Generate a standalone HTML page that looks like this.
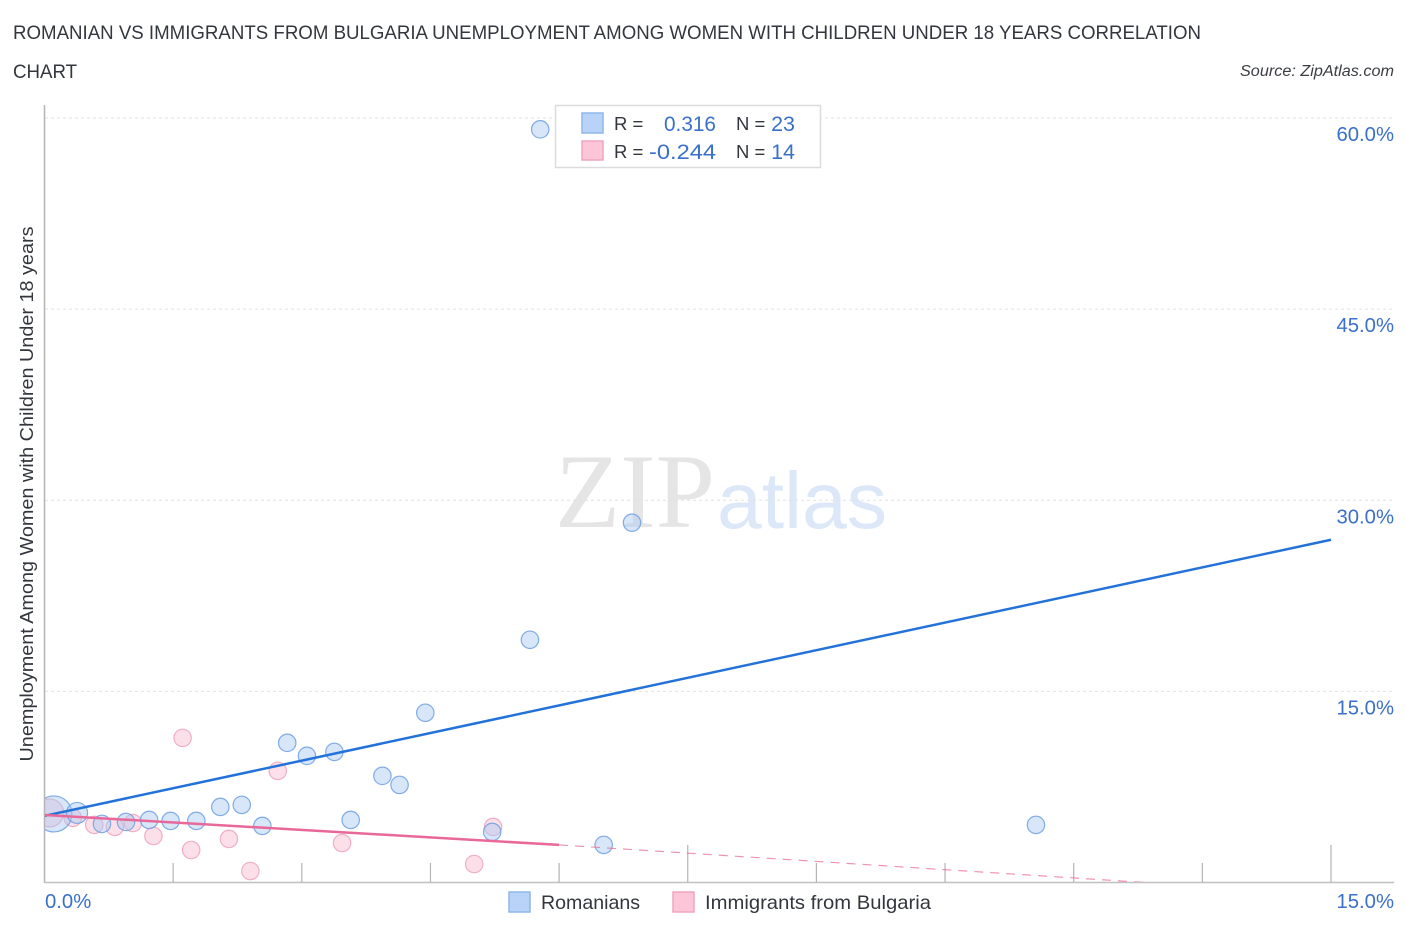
<!DOCTYPE html>
<html lang="en">
<head>
<meta charset="utf-8">
<title>Romanian vs Immigrants from Bulgaria Correlation Chart</title>
<style>
html,body{margin:0;padding:0;background:#fff;width:1406px;height:930px;overflow:hidden}
svg{display:block;font-family:"Liberation Sans",sans-serif}
</style>
</head>
<body>
<svg id="chart" width="1406" height="930" viewBox="0 0 1406 930">
  <defs><clipPath id="plot-clip"><rect x="45" y="100" width="1300" height="782"></rect></clipPath></defs>
  <rect width="1406" height="930" fill="#fff"></rect>

  <g>
    <text x="555" y="527" font-family="'Liberation Serif',serif" font-size="106" fill="#e5e5e5" textLength="160" lengthAdjust="spacingAndGlyphs">ZIP</text>
    <text x="717" y="528" font-size="80" fill="#dce8f8" textLength="170" lengthAdjust="spacingAndGlyphs">atlas</text>
  </g>

  <g id="grid"></g>
  <g id="axes"></g>
  <g id="y-labels"></g>
  <g id="x-labels"></g>
  <g id="points" clip-path="url(#plot-clip)"></g>
  <g id="trends" clip-path="url(#plot-clip)"></g>

  <text x="13" y="39" font-size="19.5" fill="#33373d" textLength="1188" lengthAdjust="spacingAndGlyphs">ROMANIAN VS IMMIGRANTS FROM BULGARIA UNEMPLOYMENT AMONG WOMEN WITH CHILDREN UNDER 18 YEARS CORRELATION</text>
  <text x="13" y="78" font-size="19.5" fill="#33373d" textLength="64" lengthAdjust="spacingAndGlyphs">CHART</text>
  <text x="1394" y="76" font-size="15.5" font-style="italic" fill="#3a3d42" text-anchor="end" textLength="154" lengthAdjust="spacingAndGlyphs">Source: ZipAtlas.com</text>

  <text transform="translate(33,494) rotate(-90)" font-size="18" fill="#33373d" text-anchor="middle" textLength="535" lengthAdjust="spacingAndGlyphs">Unemployment Among Women with Children Under 18 years</text>

  <g>
    <rect x="555.5" y="105.5" width="265" height="62" fill="#fff" stroke="#dcdcdc" stroke-width="1.5"></rect>
    <rect x="582" y="113" width="21" height="20" fill="#b8d3f7" stroke="#8fb7ea" stroke-width="1.5"></rect>
    <rect x="582" y="141" width="21" height="19" fill="#fcc5d8" stroke="#f0a5bf" stroke-width="1.5"></rect>
    <text x="614" y="130" font-size="18.5" fill="#33373d">R =</text>
    <text x="614" y="158" font-size="18.5" fill="#33373d">R =</text>
    <text x="664" y="131" font-size="21.5" fill="#3a70c9" textLength="52" lengthAdjust="spacingAndGlyphs">0.316</text>
    <text x="649" y="159" font-size="21.5" fill="#3a70c9" textLength="67" lengthAdjust="spacingAndGlyphs">-0.244</text>
    <text x="736" y="130" font-size="18.5" fill="#33373d">N =</text>
    <text x="736" y="158" font-size="18.5" fill="#33373d">N =</text>
    <text x="795" y="131" font-size="21.5" fill="#3a70c9" text-anchor="end">23</text>
    <text x="795" y="159" font-size="21.5" fill="#3a70c9" text-anchor="end">14</text>
  </g>

  <g>
    <rect x="509" y="892" width="21" height="20" fill="#b8d3f7" stroke="#8fb7ea" stroke-width="1.5"></rect>
    <text x="541" y="909" font-size="19.5" fill="#33373d" textLength="99" lengthAdjust="spacingAndGlyphs">Romanians</text>
    <rect x="673" y="892" width="21" height="20" fill="#fcc5d8" stroke="#f0a5bf" stroke-width="1.5"></rect>
    <text x="705" y="909" font-size="19.5" fill="#33373d" textLength="226" lengthAdjust="spacingAndGlyphs">Immigrants from Bulgaria</text>
  </g>
</svg>

<script>
const yTicks = [15, 30, 45, 60];
const yTickLabels = ["15.0%", "30.0%", "45.0%", "60.0%"];
const xTicks = [1.5, 3, 4.5, 6, 7.5, 9, 10.5, 12, 13.5, 15];
const xMajorTicks = [7.5, 15];
const xEndLabels = ["0.0%", "15.0%"];

const romaniansX = [0.11, 0.38, 0.67, 0.95, 1.22, 1.47, 1.77, 2.05, 2.30, 2.54, 2.83, 3.06, 3.38, 3.57, 3.94, 4.14, 4.44, 5.22, 5.66, 5.78, 6.52, 6.85, 11.56];
const romaniansY = [5.38, 5.46, 4.60, 4.75, 4.91, 4.83, 4.83, 5.93, 6.09, 4.44, 10.96, 9.94, 10.25, 4.91, 8.37, 7.66, 13.32, 3.97, 19.05, 59.11, 2.95, 28.24, 4.52];
const romaniansWeight = [5, 2, 1, 1, 1, 1, 1, 1, 1, 1, 1, 1, 1, 1, 1, 1, 1, 1, 1, 1, 1, 1, 1];

const bulgariaX = [0.06, 0.33, 0.58, 0.82, 1.03, 1.27, 1.61, 1.71, 2.15, 2.40, 2.72, 3.47, 5.01, 5.23];
const bulgariaY = [5.46, 5.07, 4.52, 4.36, 4.67, 3.65, 11.35, 2.55, 3.42, 0.90, 8.76, 3.10, 1.45, 4.36];
const bulgariaWeight = [3, 1, 1, 1, 1, 1, 1, 1, 1, 1, 1, 1, 1, 1];

const romaniansTrendX = [0, 15];
const romaniansTrendY = [5.23, 26.9];
const bulgariaTrendX = [0, 6];
const bulgariaTrendY = [5.3, 2.95];
const bulgariaDashX = [6, 12.83];
const bulgariaDashY = [2.95, 0];

const NS = "http://www.w3.org/2000/svg";
const xScale = v => 44.5 + v * (1286.5 / 15);
const yScale = v => 882.5 - v * (764.5 / 60);
const radiusFor = w => w >= 5 ? 18 : w >= 3 ? 14 : w >= 2 ? 10.5 : 8.7;

function make(tag, attrs, parent) {
  const el = document.createElementNS(NS, tag);
  Object.keys(attrs).forEach(k => el.setAttribute(k, attrs[k]));
  parent.appendChild(el);
  return el;
}

const grid = document.getElementById("grid");
yTicks.forEach(t => {
  const line = make("line", {x1: 45, x2: 1394, y1: yScale(t), y2: yScale(t), stroke: "#e2e2e2", "stroke-width": 1, "stroke-dasharray": "3 3"}, grid);
  
  
});

const axes = document.getElementById("axes");
const yAxis = make("line", {x1: 44.5, x2: 44.5, y1: 105, y2: 883, stroke: "#b4b4b4", "stroke-width": 1.5}, axes);


const xAxis = make("line", {x1: 44, x2: 1394, y1: 882.5, y2: 882.5, stroke: "#c0c0c0", "stroke-width": 1.5}, axes);


xTicks.forEach(t => {
  const top = xMajorTicks.includes(t) ? 845 : 863;
  const tick = make("line", {x1: xScale(t), x2: xScale(t), y1: top, y2: 882, stroke: "#b4b4b4", "stroke-width": 1.2}, axes);
  
  
});

const yLabels = document.getElementById("y-labels");
yTicks.forEach((t, i) => {
  const label = make("text", {x: 1394, y: yScale(t) + 23, "font-size": 20.3, fill: "#3a70c9", "text-anchor": "end"}, yLabels);
  label.textContent = yTickLabels[i];
  
  
});

const xLabels = document.getElementById("x-labels");
const xLabelStart = make("text", {x: 45, y: 908, "font-size": 20.3, fill: "#3a70c9"}, xLabels);
xLabelStart.textContent = xEndLabels[0];


const xLabelEnd = make("text", {x: 1394, y: 908, "font-size": 20.3, fill: "#3a70c9", "text-anchor": "end"}, xLabels);
xLabelEnd.textContent = xEndLabels[1];



const points = document.getElementById("points");
bulgariaX.forEach((x, i) => {
  const dot = make("circle", {cx: xScale(x), cy: yScale(bulgariaY[i]), r: radiusFor(bulgariaWeight[i]), fill: "#f8a9c2", "fill-opacity": 0.36, stroke: "#ee9db8", "stroke-opacity": 0.8, "stroke-width": 1.2}, points);
  
  
});
romaniansX.forEach((x, i) => {
  const dot = make("circle", {cx: xScale(x), cy: yScale(romaniansY[i]), r: radiusFor(romaniansWeight[i]), fill: "#a8c8f2", "fill-opacity": 0.46, stroke: "#6d9fe0", "stroke-opacity": 0.85, "stroke-width": 1.2}, points);
  
  
});

const trends = document.getElementById("trends");
const blueTrend = make("line", {x1: xScale(romaniansTrendX[0]), y1: yScale(romaniansTrendY[0]), x2: xScale(romaniansTrendX[1]), y2: yScale(romaniansTrendY[1]), stroke: "#2272d9", "stroke-width": 2.5}, trends);


const pinkDash = make("line", {x1: xScale(bulgariaDashX[0]), y1: yScale(bulgariaDashY[0]), x2: xScale(bulgariaDashX[1]), y2: yScale(bulgariaDashY[1]), stroke: "#e8709a", "stroke-opacity": 0.75, "stroke-width": 1.2, "stroke-dasharray": "9 7"}, trends);


const pinkTrend = make("line", {x1: xScale(bulgariaTrendX[0]), y1: yScale(bulgariaTrendY[0]), x2: xScale(bulgariaTrendX[1]), y2: yScale(bulgariaTrendY[1]), stroke: "#e8689a", "stroke-width": 2.5}, trends);


</script>
</body>
</html>
